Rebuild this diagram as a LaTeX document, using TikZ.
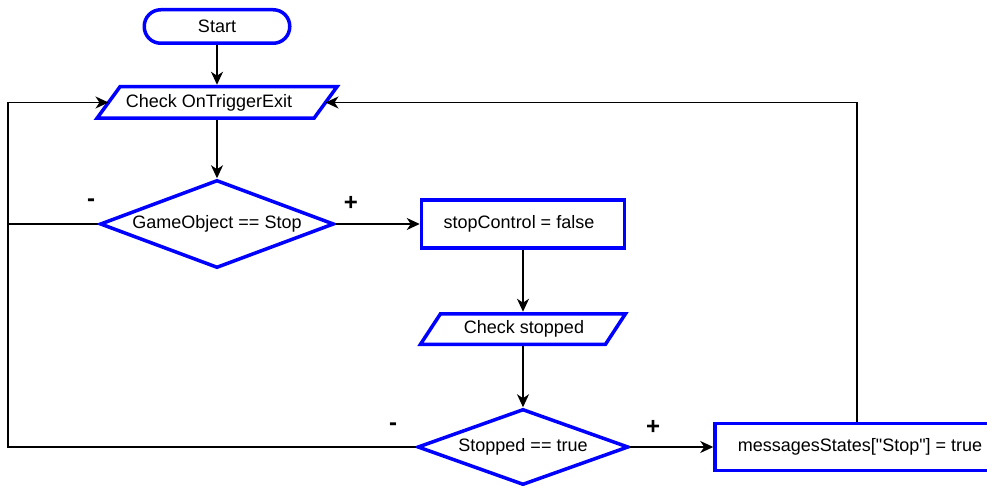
\documentclass[tikz,border=0pt]{standalone}
\usepackage{fontspec}
\setmainfont{Liberation Sans}
\newfontfamily\plainqfont{Liberation Sans}[Ligatures=ResetAll]
\usetikzlibrary{shapes.geometric,arrows.meta,calc}
\begin{document}
\begin{tikzpicture}[x=1pt,y=-1pt,
  blk/.style={draw=blue,line width=3.5pt,inner sep=0pt,font=\fontsize{18}{21}\selectfont},
  term/.style={blk,rectangle,rounded corners=16.5pt,minimum width=145.5pt,minimum height=33.5pt},
  proc/.style={blk,rectangle,minimum width=203pt,minimum height=48pt},
  dec/.style={blk,diamond},
  io/.style={rectangle,inner sep=0pt,outer sep=2pt,font=\fontsize{18}{21}\selectfont},
  para/.style={draw=blue,line width=3.5pt},
  conn/.style={draw=black,line width=1.3pt,-{Stealth[length=13pt,width=12pt,inset=4pt]}},
  wire/.style={draw=black,line width=1.3pt},
  sign/.style={font=\bfseries\fontsize{24}{26}\selectfont}
]
\clip (0,0) rectangle (987,486);
\fill[white] (0,0) rectangle (987,486);

% nodes
\node[term] (start) at (217,26.5) {Start};
\node[io,minimum width=213pt,minimum height=31.5pt] (chk) at (217,102.5) {};
\draw[para] ($(chk.north west)+(11.5,2)$) -- ($(chk.north east)+(11.5,2)$)
  -- ($(chk.south east)+(-11.5,-2)$) -- ($(chk.south west)+(-11.5,-2)$) -- cycle;
\node[font=\fontsize{18}{21}\selectfont] (chkt) at (209,102.5) {Check OnTriggerExit};

\node[dec,minimum width=234pt,minimum height=88pt,aspect=2.66] (d1) at (217,224) {GameObject == Stop};
\node[proc] (sc) at (523,224) {\hspace*{-8pt}stopControl = false};

\node[io,minimum width=181pt,minimum height=30.5pt] (cs) at (523,329) {};
\draw[para] ($(cs.north west)+(10,2)$) -- ($(cs.north east)+(10,2)$)
  -- ($(cs.south east)+(-10,-2)$) -- ($(cs.south west)+(-10,-2)$) -- cycle;
\node[font=\fontsize{18}{21}\selectfont] (cst) at (524,329) {Check stopped};

\node[dec,minimum width=211pt,minimum height=76pt,aspect=2.78] (d2) at (523,447) {Stopped == true};
\node[proc,minimum width=290pt,minimum height=47pt] (ms) at (860,447) {\plainqfont messagesStates["Stop"] = true};

% signs
\node[sign] (m1) at (91,203) {-};
\node[sign] (p1) at (351,203) {+};
\node[sign] (m2) at (393,427) {-};
\node[sign] (p2) at (653,427) {+};

% connectors
\coordinate (lb) at (8,447);
\coordinate (lt) at (8,102.5);
\coordinate (rt) at (857,102.5);
\coordinate (rb) at (857,447);

\draw[conn] (start) -- (chk);
\draw[conn] (chk) -- (d1);
\draw[conn] (d1) -- (sc);
\draw[conn] (sc) -- (cs);
\draw[conn] (cs) -- (d2);
\draw[conn] (d2) -- (ms);
\draw[conn] (d2.west) -- (lb) -- (lt) -- (chk.west);
\draw[wire] (d1.west) -- (d1.west -| lb);
\draw[conn] (ms.north -| rb) -- (rt) -- (chk.east);
\end{tikzpicture}
\end{document}
